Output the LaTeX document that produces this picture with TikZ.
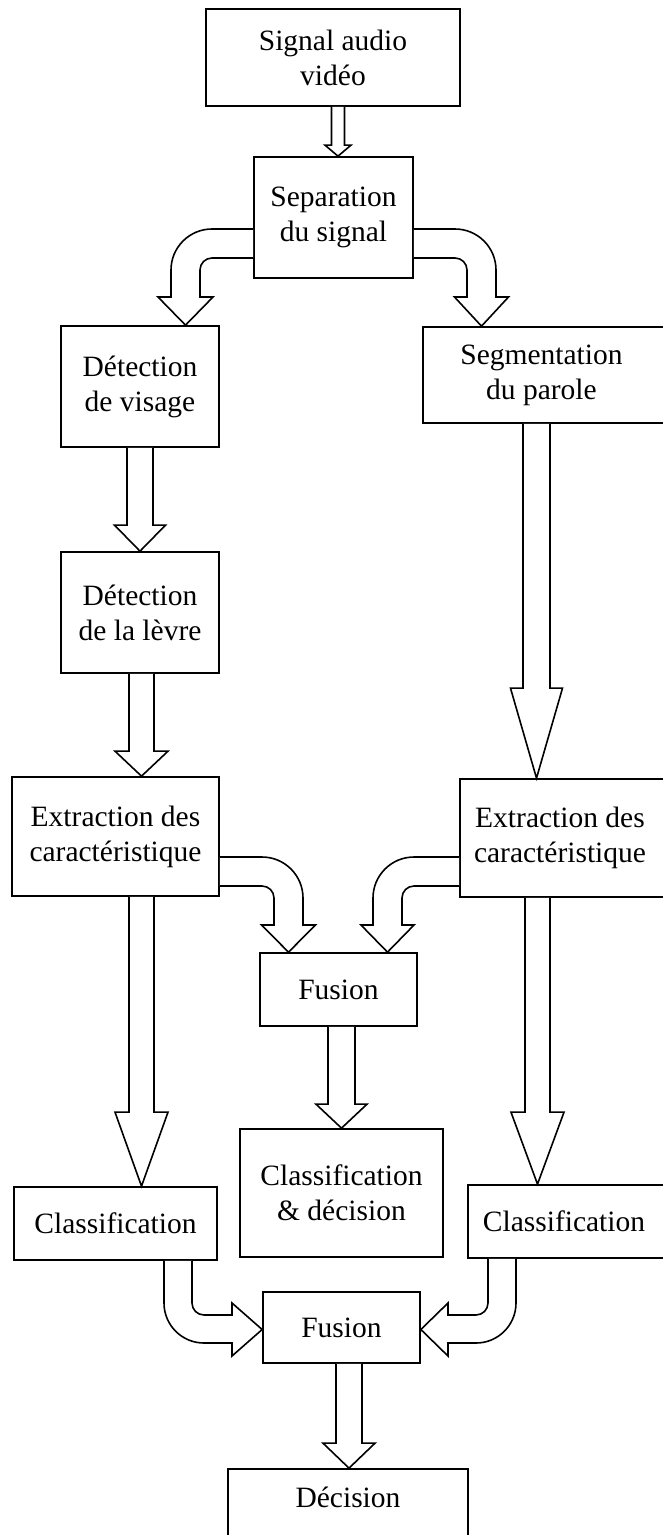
\documentclass[tikz,border=0pt]{standalone}
\usepackage{fontspec}
\setmainfont{Liberation Serif}
\usetikzlibrary{calc}
\tikzset{
  box/.style={draw, line width=1.7pt, align=center, inner sep=0pt,
    font=\fontsize{29.5}{35}\selectfont},
  blk/.style={draw, fill=white, line width=1.6pt, line join=miter}
}
% straight vertical block arrow: #1 x, #2 from anchor, #3 to anchor,
% #4 shaft half width, #5 head half width, #6 head length
\newcommand{\vblock}[6]{%
  \draw[blk] let \p1=(#2), \p2=(#3) in
    ({#1pt-#4pt},\y1) -- ({#1pt-#4pt},{\y2+#6pt}) -- ({#1pt-#5pt},{\y2+#6pt})
    -- (#1pt,\y2) -- ({#1pt+#5pt},{\y2+#6pt}) -- ({#1pt+#4pt},{\y2+#6pt})
    -- ({#1pt+#4pt},\y1);}
\begin{document}
\begin{tikzpicture}[x=1pt,y=1pt]
\useasboundingbox (0,0) rectangle (662,-1535);

\node[box, minimum width=254pt, minimum height=97pt] (src) at (333,-57.5) {Signal audio\\vidéo};
\node[box, minimum width=159pt, minimum height=121pt] (sep) at (333.5,-217.5) {Separation\\du signal};
\node[box, minimum width=158pt, minimum height=121pt] (vis) at (140,-386.5) {Détection\\de visage};
\node[box, minimum width=247pt, minimum height=96pt] (seg) at (546.5,-375) {\hspace*{-10pt}Segmentation\\\hspace*{-10pt}du parole};
\node[box, minimum width=158pt, minimum height=121pt] (lev) at (140,-612.5) {Détection\\de la lèvre};
\node[box, minimum width=207pt, minimum height=119pt] (exL) at (115.5,-836.5) {Extraction des\\caractéristique};
\node[box, minimum width=210pt, minimum height=118pt] (exR) at (565,-838) {\hspace*{-10pt}Extraction des\\\hspace*{-10pt}caractéristique};
\node[box, minimum width=157pt, minimum height=73pt] (fu1) at (338.5,-989.5) {Fusion};
\node[box, minimum width=203pt, minimum height=128pt] (cd) at (341.5,-1193) {Classification\\\& décision};
\node[box, minimum width=203pt, minimum height=73pt] (clL) at (115.5,-1223.5) {Classification};
\node[box, minimum width=202pt, minimum height=73pt] (clR) at (569,-1221.5) {\hspace*{-10pt}Classification};
\node[box, minimum width=157pt, minimum height=71pt] (fu2) at (341.5,-1327.5) {Fusion};
\node[box, minimum width=240pt, minimum height=76pt, text height=25pt, text depth=25pt] (dec) at (348,-1507) {Décision};

% straight block arrows
\vblock{338}{src.south}{sep.north}{6.5}{13}{11}
\vblock{140}{vis.south}{lev.north}{13}{25.5}{26}
\vblock{141.5}{lev.south}{exL.north}{12.5}{26.5}{25}
\vblock{536.5}{seg.south}{exR.north}{13.5}{26}{90}
\vblock{141.5}{exL.south}{clL.north}{12.5}{26.5}{74}
\vblock{537.5}{exR.south}{clR.north}{12.5}{26.5}{72}
\vblock{341.5}{fu1.south}{cd.north}{13.5}{25.5}{24}
\vblock{349}{fu2.south}{dec.north}{13}{26}{25}

% curved block arrows from the separation box
\draw[blk] let \p1=(sep.west), \p2=(vis.north) in
  (\x1,-229) -- (212,-229) arc[start angle=90, end angle=180, radius=41]
  -- (171,-297) -- (158,-297) -- (185.5,\y2) -- (213,-297) -- (200,-297)
  -- (200,-270) arc[start angle=180, end angle=90, radius=12] -- (\x1,-258);
\draw[blk] let \p1=(sep.east), \p2=(seg.north) in
  (\x1,-229) -- (455,-229) arc[start angle=90, end angle=0, radius=41]
  -- (496,-297) -- (508.5,-297) -- (481.5,\y2) -- (454.5,-297) -- (467,-297)
  -- (467,-270) arc[start angle=0, end angle=90, radius=12] -- (\x1,-258);

% curved block arrows into the first fusion
\draw[blk] let \p1=(exL.east), \p2=(fu1.north) in
  (\x1,-857) -- (262,-857) arc[start angle=90, end angle=0, radius=41]
  -- (303,-925) -- (315.5,-925) -- (288.5,\y2) -- (261.5,-925) -- (274,-925)
  -- (274,-898) arc[start angle=0, end angle=90, radius=12] -- (\x1,-886);
\draw[blk] let \p1=(exR.west), \p2=(fu1.north) in
  (\x1,-857) -- (414,-857) arc[start angle=90, end angle=180, radius=41]
  -- (373,-925) -- (361,-925) -- (387.5,\y2) -- (414,-925) -- (402,-925)
  -- (402,-898) arc[start angle=180, end angle=90, radius=12] -- (\x1,-886);

% curved block arrows into the second fusion
\draw[blk] let \p1=(clL.south), \p2=(fu2.west) in
  (164,\y1) -- (164,-1303) arc[start angle=180, end angle=270, radius=40]
  -- (232,-1343) -- (232,-1356) -- (\x2,-1329.5) -- (232,-1303) -- (232,-1315)
  -- (204,-1315) arc[start angle=270, end angle=180, radius=12] -- (192,\y1);
\draw[blk] let \p1=(clR.south), \p2=(fu2.east) in
  (516,\y1) -- (516,-1303) arc[start angle=0, end angle=-90, radius=40]
  -- (448,-1343) -- (448,-1356) -- (\x2,-1329.5) -- (448,-1303) -- (448,-1315)
  -- (476,-1315) arc[start angle=-90, end angle=0, radius=12] -- (488,\y1);
\end{tikzpicture}
\end{document}
